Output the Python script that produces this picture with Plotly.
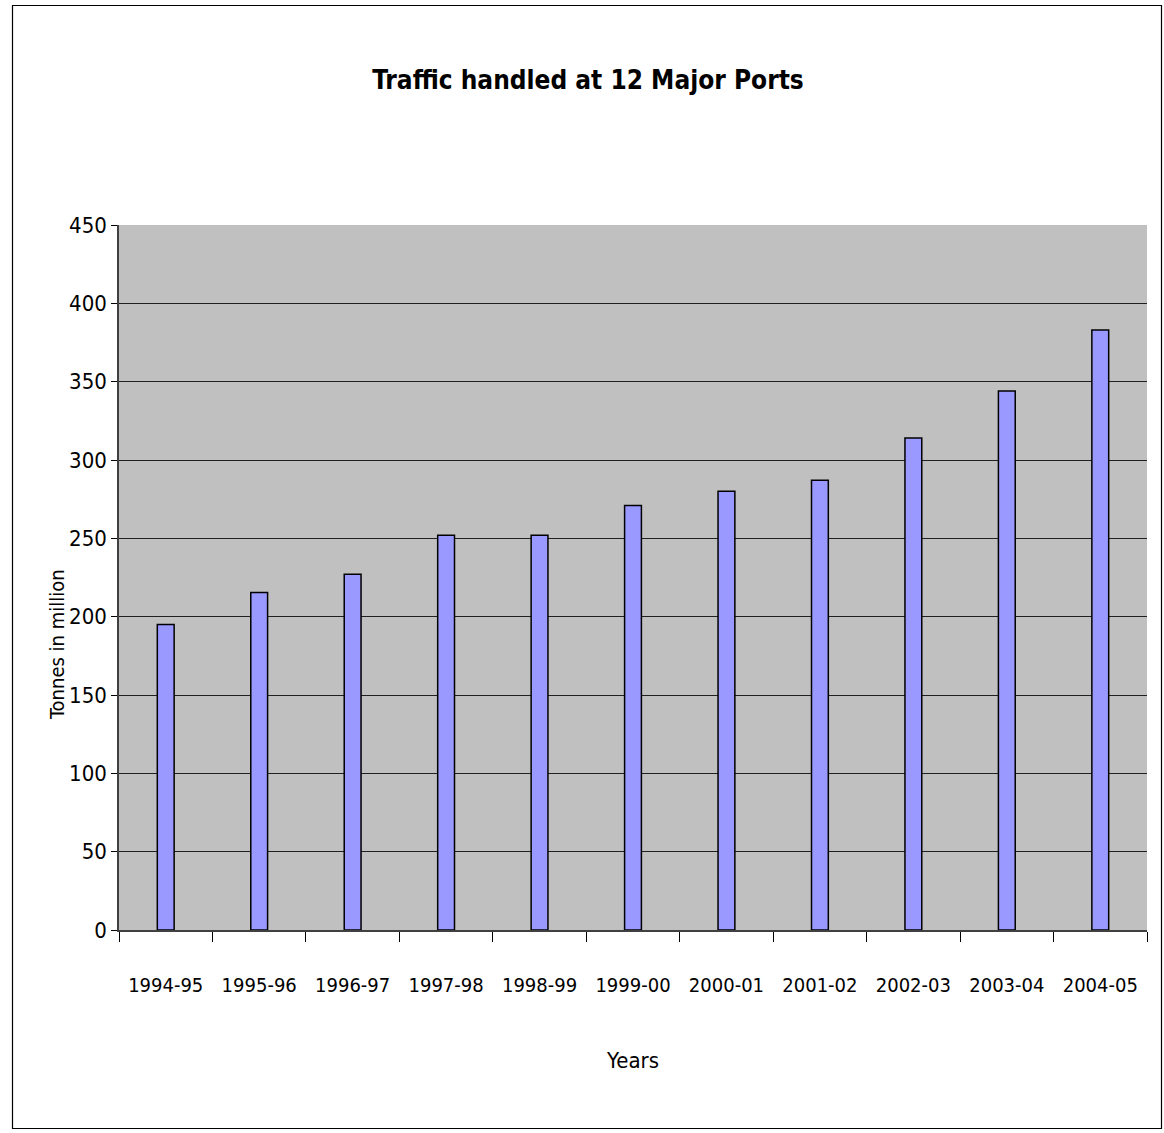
import plotly.graph_objects as go

# Traffic handled at 12 major ports, tonnes in million
years = ["1994-95", "1995-96", "1996-97", "1997-98", "1998-99", "1999-00",
         "2000-01", "2001-02", "2002-03", "2003-04", "2004-05"]
tonnes = [195, 215.5, 227, 252, 252, 271, 280, 287, 314, 344, 383]
y_ticks = [0, 50, 100, 150, 200, 250, 300, 350, 400, 450]

FONT = "DejaVu Sans Condensed, Liberation Sans Narrow, Arial Narrow, sans-serif"

W, H = 1164, 1133
L, R, T, B = 119, 17, 225, 203
pw, ph = W - L - R, H - T - B


def px_x(p):
    return (p - L) / pw


def px_y(p):
    return (H - B - p) / ph


fig = go.Figure(go.Bar(
    x=years, y=tonnes, width=0.18,
    marker=dict(color="#9999FF", line=dict(color="black", width=1.5)),
))

# frame round the whole chart area
fig.add_shape(type="rect", xref="paper", yref="paper",
              x0=px_x(12.5), x1=px_x(1161.5), y0=px_y(1128.5), y1=px_y(5.5),
              line=dict(color="black", width=1.2), layer="below")

# y title sits below the middle of the axis in the original
fig.add_annotation(text="Tonnes in million", xref="paper", yref="paper",
                   x=px_x(57), y=px_y(645), textangle=-90, showarrow=False,
                   xanchor="center", yanchor="middle", font=dict(size=20))

fig.update_layout(
    width=W, height=H,
    margin=dict(l=L, r=R, t=T, b=B),
    paper_bgcolor="white", plot_bgcolor="#C0C0C0",
    font=dict(family=FONT, color="black"),
    title=dict(text="<b>Traffic handled at 12 Major Ports</b>",
               font=dict(size=26, family=FONT),
               x=588 / W, xanchor="center",
               y=1 - 80 / H, yanchor="middle", yref="container"),
    showlegend=False,
    xaxis=dict(
        type="category",
        title=dict(text="Years", font=dict(size=22), standoff=57),
        tickfont=dict(size=20),
        showline=True, linecolor="#404040", linewidth=1.5,
        ticks="outside", ticklen=10, tickcolor="black",
        tickson="boundaries", ticklabelstandoff=36,
        showgrid=False,
    ),
    yaxis=dict(
        tickfont=dict(size=22),
        range=[0, 450], tickvals=y_ticks,
        showline=True, linecolor="#404040", linewidth=1.5,
        ticks="outside", ticklen=6, tickcolor="black",
        showgrid=True, gridcolor="#202020", gridwidth=1,
        zeroline=False,
    ),
)

fig.write_html("out.html", config={"displayModeBar": False},
               post_script="document.body.style.margin='0';")
